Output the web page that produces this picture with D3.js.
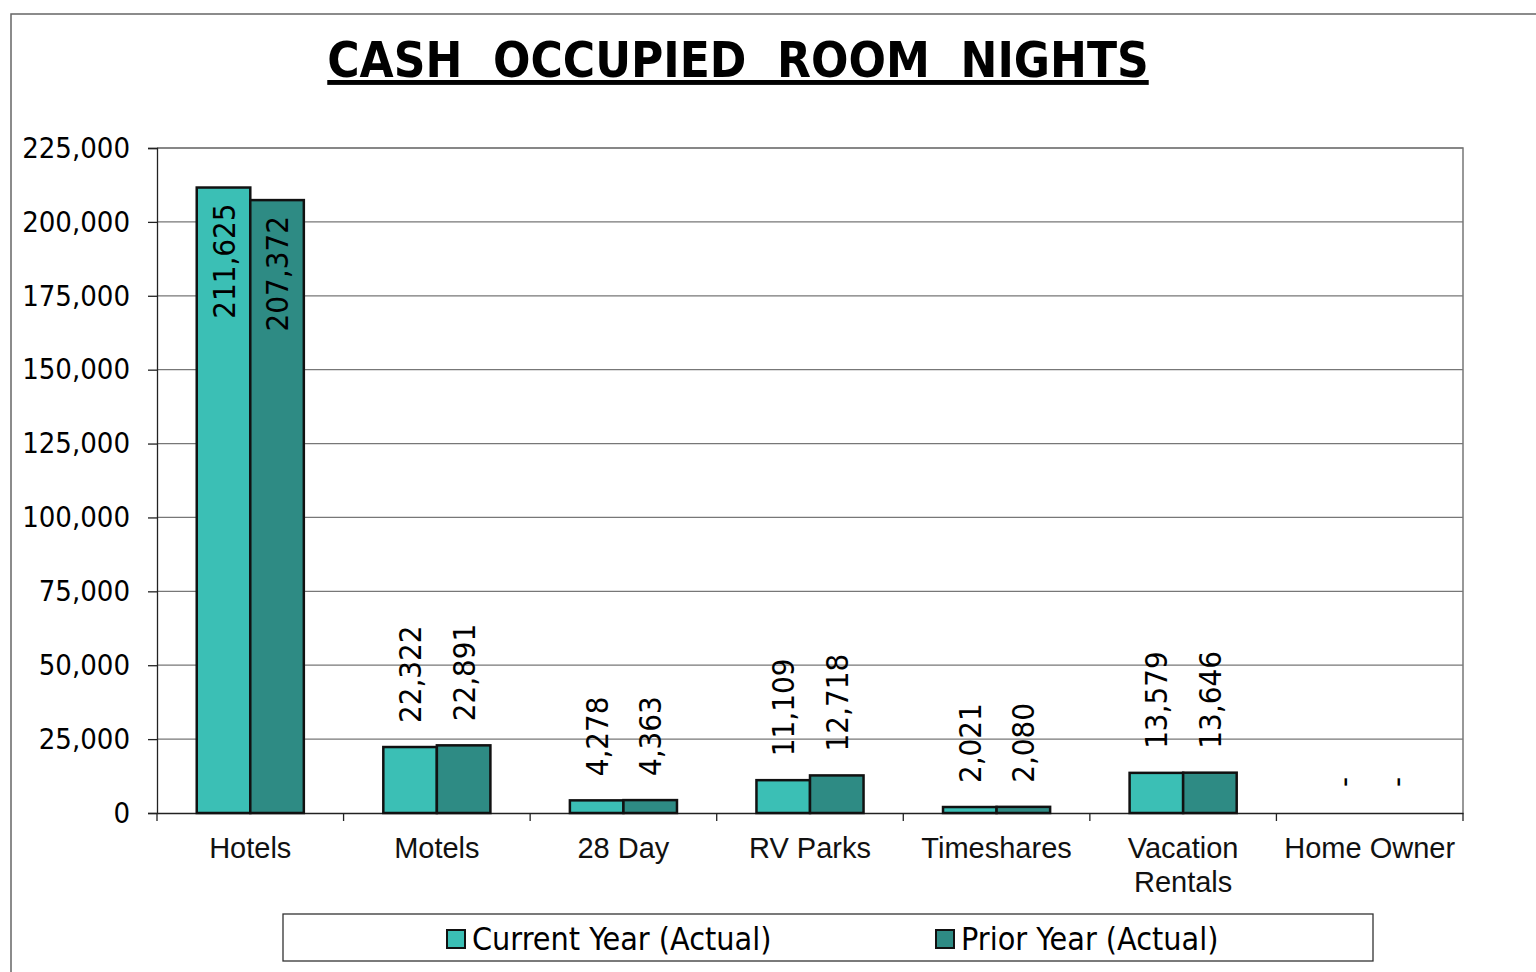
<!DOCTYPE html>
<html><head><meta charset="utf-8">
<script src="https://cdn.jsdelivr.net/npm/d3@7"></script>
<style>body{margin:0;background:#fff}svg{display:block}</style>
</head><body>
<svg id="c" width="1536" height="972"></svg>
<script>
const categories = ["Hotels","Motels","28 Day","RV Parks","Timeshares","Vacation Rentals","Home Owner"];
const currentYear = [211625,22322,4278,11109,2021,13579,0];
const priorYear   = [207372,22891,4363,12718,2080,13646,0];
const currentLabels = ["211,625","22,322","4,278","11,109","2,021","13,579","-"];
const priorLabels   = ["207,372","22,891","4,363","12,718","2,080","13,646","-"];
const seriesNames = ["Current Year (Actual)","Prior Year (Actual)"];
const yTicks = [0,25000,50000,75000,100000,125000,150000,175000,200000,225000];
const colors = ["#3bbfb5","#2e8b84"];

const svg = d3.select("#c");
const L=157,R=1463,T=148,B=813;
const cond="'DejaVu Sans Condensed','DejaVu Sans',sans-serif";
svg.append("path").attr("d","M11,972V14H1536").attr("fill","none").attr("stroke","#666").attr("stroke-width",1.5);

const x = d3.scaleBand().domain(categories).range([L,R]).paddingInner(0).paddingOuter(0);
const x1 = d3.scaleBand().domain([0,1]).range([x.bandwidth()*0.213, x.bandwidth()*0.787]);
const y = d3.scaleLinear().domain([0,225000]).range([B,T]);

svg.append("g").selectAll("line").data(yTicks.filter(d=>d>0)).join("line")
  .attr("x1",L).attr("x2",R).attr("y1",d=>y(d)).attr("y2",d=>y(d))
  .attr("stroke","#777").attr("stroke-width",1.2);
svg.append("path").attr("d",`M${L},${T}H${R}V${B}`).attr("fill","none").attr("stroke","#777").attr("stroke-width",1.5);

const ya = svg.append("g").attr("transform",`translate(${L},0)`)
  .call(d3.axisLeft(y).tickValues(yTicks).tickSize(9).tickPadding(18).tickFormat(d3.format(",")));
ya.select(".domain").attr("stroke","#222").attr("stroke-width",1.3);
ya.selectAll(".tick line").attr("stroke","#222").attr("stroke-width",1.3);
ya.selectAll("text").attr("font-family",cond).attr("font-size",29).attr("fill","#000");

const xa = svg.append("g").attr("transform",`translate(0,${B})`)
  .call(d3.axisBottom(x).tickSize(0).tickFormat(""));
xa.select(".domain").attr("stroke","#222").attr("stroke-width",1.5);
svg.append("g").selectAll("line").data(d3.range(categories.length+1)).join("line")
  .attr("x1",i=>L+i*x.step()).attr("x2",i=>L+i*x.step()).attr("y1",B).attr("y2",B+8)
  .attr("stroke","#222").attr("stroke-width",1.3);
const catG = svg.append("g");
categories.forEach(c=>{
  const words = c==="Vacation Rentals" ? ["Vacation","Rentals"] : [c];
  const t = catG.append("text").attr("x",x(c)+x.bandwidth()/2).attr("y",B+45)
    .attr("text-anchor","middle").attr("font-family","'Liberation Sans',Arial,sans-serif").attr("font-size",29).attr("fill","#111");
  words.forEach((w,i)=>t.append("tspan").attr("x",x(c)+x.bandwidth()/2).attr("dy",i?34:0).text(w));
});

const series=[currentYear,priorYear], labels=[currentLabels,priorLabels];
series.forEach((vals,s)=>{
  const g=svg.append("g");
  g.selectAll("rect").data(categories.map((c,i)=>({c,v:vals[i],l:labels[s][i]})).filter(d=>d.v>0)).join("rect")
    .attr("x",d=>x(d.c)+x1(s)).attr("width",x1.bandwidth())
    .attr("y",d=>y(d.v)).attr("height",d=>y(0)-y(d.v))
    .attr("fill",colors[s]).attr("stroke","#111").attr("stroke-width",2.5);
  g.selectAll("text").data(categories.map((c,i)=>({c,v:vals[i],l:labels[s][i]}))).join("text")
    .attr("transform",d=>{
      const cx=x(d.c)+x1(s)+x1.bandwidth()/2+11;
      const inside = d.v>100000;
      const yy = inside ? y(d.v)+16 : (d.v>0? y(d.v)-24 : y(0)-26);
      return `translate(${cx},${yy}) rotate(-90)`;
    })
    .attr("text-anchor",d=>d.v>100000?"end":"start")
    .attr("font-family",cond).attr("font-size",31).attr("fill","#000")
    .text(d=>d.l);
});

svg.append("text").attr("x",738).attr("y",77).attr("text-anchor","middle")
  .attr("font-family",cond).attr("font-weight","bold").attr("font-size",49)
  .attr("text-decoration","underline").attr("fill","#000").style("white-space","pre")
  .text("CASH  OCCUPIED  ROOM  NIGHTS");

svg.append("rect").attr("x",283).attr("y",914).attr("width",1090).attr("height",47).attr("fill","#fff").attr("stroke","#333").attr("stroke-width",1.3);
const lx=[447,936];
seriesNames.forEach((n,i)=>{
  svg.append("rect").attr("x",lx[i]).attr("y",930).attr("width",18).attr("height",18).attr("fill",colors[i]).attr("stroke","#111").attr("stroke-width",2);
  svg.append("text").attr("x",lx[i]+25).attr("y",950).attr("font-family",cond).attr("font-size",32).attr("fill","#000").text(n);
});
</script>
</body></html>
